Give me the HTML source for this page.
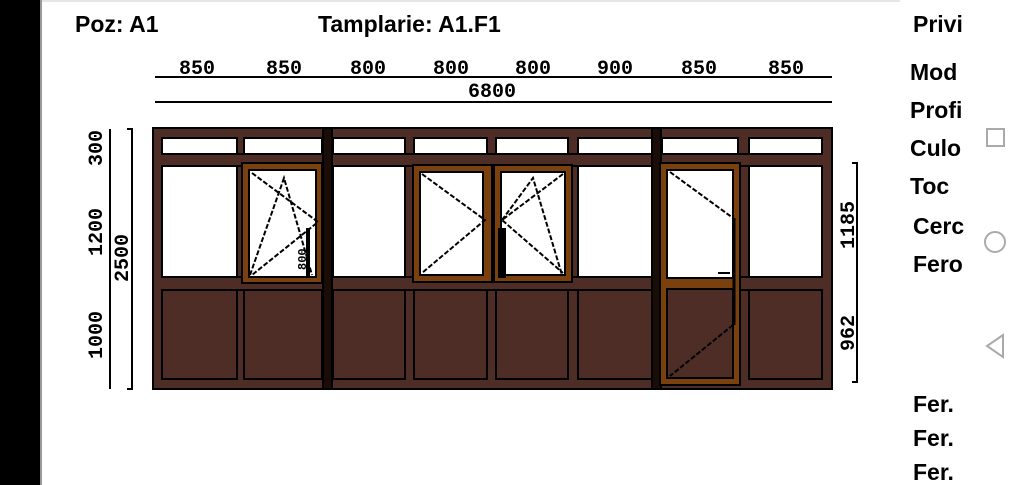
<!DOCTYPE html>
<html><head><meta charset="utf-8"><style>
html,body{margin:0;padding:0;width:1024px;height:485px;overflow:hidden;background:#fff}
.t{position:absolute;font-family:"Liberation Sans",sans-serif;font-weight:bold;font-size:23px;color:#000;white-space:nowrap}
</style></head><body>
<div style="position:absolute;left:0;top:0;width:40px;height:485px;background:#000"></div>
<div style="position:absolute;left:40px;top:0;width:2px;height:485px;background:#999"></div>
<div style="position:absolute;left:42px;top:0;width:858px;height:2px;background:#e6e6e6"></div>
<div class="t" style="left:75px;top:11px">Poz: A1</div>
<div class="t" style="left:318px;top:11px">Tamplarie: A1.F1</div>
<div style="position:absolute;left:905px;top:0;width:62px;height:485px;overflow:hidden">
<div class="t" style="left:8px;top:11px">Privi</div>
<div class="t" style="left:5px;top:59px">Mod</div>
<div class="t" style="left:5px;top:97px">Profi</div>
<div class="t" style="left:5px;top:135px">Culo</div>
<div class="t" style="left:5px;top:173px">Toc</div>
<div class="t" style="left:8px;top:213px">Cerc</div>
<div class="t" style="left:8px;top:251px">Fero</div>
<div class="t" style="left:8px;top:391px">Fer.</div>
<div class="t" style="left:8px;top:425px">Fer.</div>
<div class="t" style="left:8px;top:459px">Fer.</div>
</div>
<svg width="1024" height="485" style="position:absolute;left:0;top:0" xmlns="http://www.w3.org/2000/svg">
<g fill="none" stroke="#aaa" stroke-width="2">
<rect x="987" y="129" width="17" height="17"/>
<circle cx="995" cy="242" r="10"/>
<path d="M1003 335 L987 346 L1003 357 Z"/>
</g>
<g font-family="Liberation Mono,monospace" font-size="20" font-weight="bold" fill="#000" text-anchor="middle">
<text x="197" y="74">850</text><text x="284" y="74">850</text><text x="368" y="74">800</text>
<text x="451" y="74">800</text><text x="533" y="74">800</text><text x="615" y="74">900</text>
<text x="699" y="74">850</text><text x="786" y="74">850</text>
<text x="492" y="97">6800</text>
<text transform="translate(102,148) rotate(-90)">300</text>
<text transform="translate(102,232) rotate(-90)">1200</text>
<text transform="translate(102,335) rotate(-90)">1000</text>
<text transform="translate(128,258) rotate(-90)">2500</text>
<text transform="translate(854,225) rotate(-90)">1185</text>
<text transform="translate(854,333) rotate(-90)">962</text>
</g>
<g stroke="#000" stroke-width="2" fill="none">
<path d="M155 77H832M155 102H832"/>
<path d="M110 129V389M132 129V389M127 129H133M127 389H133"/>
<path d="M857 163V382M852 163H858M852 382H858"/>
</g>
<rect x="153" y="128" width="679" height="261" fill="#4d2d25" stroke="#000" stroke-width="2"/>
<g stroke="#000" stroke-width="2">
<g fill="#fff">
<rect x="162" y="138" width="75" height="16"/><rect x="244" y="138" width="78" height="16"/>
<rect x="333" y="138" width="72" height="16"/><rect x="414" y="138" width="73" height="16"/>
<rect x="496" y="138" width="72" height="16"/><rect x="578" y="138" width="74" height="16"/>
<rect x="662" y="138" width="76" height="16"/><rect x="749" y="138" width="73" height="16"/>
<rect x="162" y="166" width="75" height="111"/><rect x="333" y="166" width="72" height="111"/>
<rect x="578" y="166" width="74" height="111"/><rect x="749" y="166" width="73" height="111"/>
</g>
<g fill="none">
<rect x="162" y="290" width="75" height="89"/><rect x="244" y="290" width="78" height="89"/>
<rect x="333" y="290" width="72" height="89"/><rect x="414" y="290" width="73" height="89"/>
<rect x="496" y="290" width="72" height="89"/><rect x="578" y="290" width="74" height="89"/>
<rect x="749" y="290" width="73" height="89"/>
<path d="M162 154H822M162 166H822M162 277H822M162 290H822"/>
</g>
<rect x="323" y="128" width="9" height="261" fill="#1a0d08"/>
<rect x="652" y="128" width="9" height="261" fill="#1a0d08"/>
<rect x="242" y="163" width="80" height="120" fill="#7a410f"/>
<rect x="249" y="170" width="67" height="107" fill="#fff"/>
<rect x="413" y="165" width="79" height="117" fill="#7a410f"/>
<rect x="420" y="172" width="63" height="103" fill="#fff"/>
<rect x="494" y="165" width="78" height="117" fill="#7a410f"/>
<rect x="501" y="172" width="64" height="103" fill="#fff"/>
<rect x="660" y="163" width="80" height="222" fill="#7a410f"/>
<rect x="667" y="170" width="66" height="108" fill="#fff"/>
<rect x="667" y="289" width="66" height="89" fill="#4d2d25"/>
</g>
<g stroke="#000" stroke-width="2" fill="none" stroke-dasharray="5 2">
<path d="M252 173L318 222L252 275"/>
<path d="M250 275L284 178L312 275"/>
<path d="M422 174L485 220L422 273"/>
<path d="M563 174L502 220L563 273"/>
<path d="M502 220L533 178L562 275"/>
<path d="M670 172L733 218"/>
<path d="M733 325L670 376"/>
</g>
<path d="M734 218V325" stroke="#000" stroke-width="3"/>
<g fill="#000">
<rect x="306" y="228" width="4" height="50"/><rect x="498" y="228" width="8" height="50"/>
<rect x="718" y="272" width="12" height="2"/>
</g>
<text transform="translate(306,270) rotate(-90)" font-family="Liberation Mono,monospace" font-size="12" font-weight="bold" fill="#000">800</text>
</svg>
</body></html>
